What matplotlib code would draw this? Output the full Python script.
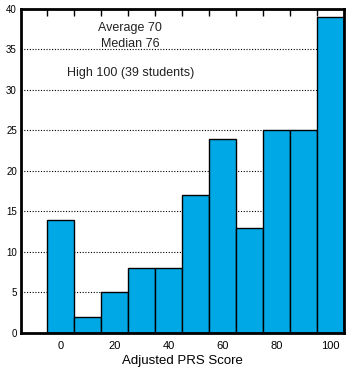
import matplotlib
matplotlib.use('Agg')
import matplotlib.pyplot as plt

# histogram of adjusted PRS scores
scores = [0, 10, 20, 30, 40, 50, 60, 70, 80, 90, 100]
counts = [14, 2, 5, 8, 8, 17, 24, 13, 25, 25, 39]
x_ticks = [0, 20, 40, 60, 80, 100]
y_ticks = [0, 5, 10, 15, 20, 25, 30, 35, 40]

plt.rcParams['font.family'] = ['Liberation Sans', 'DejaVu Sans']

fig = plt.figure(figsize=(3.63, 3.74), dpi=100)
ax = fig.add_axes([0.058, 0.11, 0.89, 0.866])

for y in y_ticks[1:-1]:
    ax.axhline(y, color='black', linestyle=(0, (1, 1.5)), linewidth=0.8, zorder=1)

ax.bar(scores, counts, width=10, color='#00A9E6', edgecolor='black',
       linewidth=1.0, zorder=2)

ax.set_xlim(-14.6, 105)
ax.set_ylim(0, 40)
ax.set_xticks(x_ticks)
ax.set_yticks(y_ticks)
ax.tick_params(axis='x', length=0, labelsize=8, pad=6)
ax.tick_params(axis='y', length=0, labelsize=7, pad=3)

# inward ticks on top and right
top = ax.secondary_xaxis('top')
top.set_xticks([s - 5 for s in scores])
top.tick_params(direction='in', length=5, width=1, labeltop=False)
right = ax.secondary_yaxis('right')
right.set_yticks(y_ticks[1:-1])
right.tick_params(direction='in', length=5, width=1, labelright=False)

for sp in ax.spines.values():
    sp.set_linewidth(2)
    sp.set_zorder(5)

ax.set_xlabel('Adjusted PRS Score', fontsize=9.5, labelpad=3)

ax.text(25.7, 37.6, 'Average 70', ha='center', va='center', fontsize=9, color='#222222')
ax.text(25.7, 35.7, 'Median 76', ha='center', va='center', fontsize=9, color='#222222')
ax.text(2.4, 32.1, 'High 100 (39 students)', ha='left', va='center', fontsize=9, color='#222222')

fig.savefig('out.png', dpi=100)
